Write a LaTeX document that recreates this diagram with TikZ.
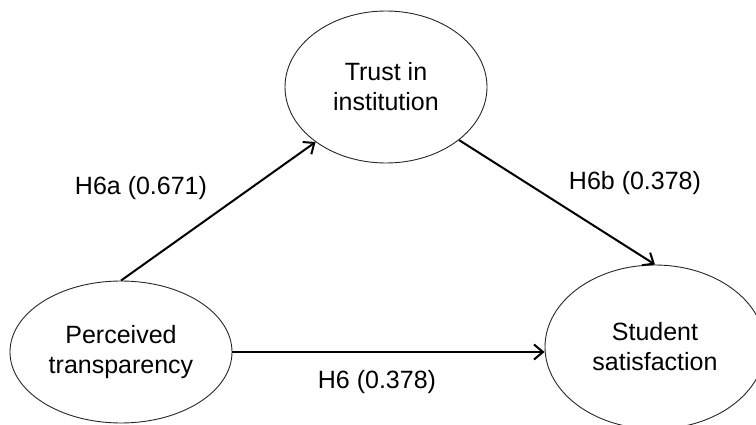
\documentclass[tikz,border=0pt]{standalone}
\usepackage{fontspec}
\setmainfont{Liberation Sans}
\usetikzlibrary{arrows.meta,shapes.geometric}
\begin{document}
\begin{tikzpicture}[x=1pt,y=-1pt,
  latent/.style={draw=black!85, line width=0.9pt, ellipse, inner sep=0pt, align=center,
    font=\fontsize{25}{30}\selectfont},
  hyp/.style={line width=2pt, -{Straight Barb[length=9pt,width=15pt,line width=2pt]}},
  lbl/.style={font=\fontsize{25}{30}\selectfont, inner sep=0pt}]
\useasboundingbox (0,0) rectangle (756,425);
\node[latent, minimum width=202pt, minimum height=152pt] (trust) at (386,87) {Trust in\\institution};
\node[latent, minimum width=222pt, minimum height=142pt] (pt) at (121,352) {Perceived\\transparency};
\node[latent, minimum width=220pt, minimum height=164pt] (ss) at (655,347) {Student\\satisfaction};
\draw[hyp] (pt.north) -- (trust.218);
\draw[hyp] (trust.-36) -- (ss.north);
\draw[hyp] (pt.east) -- (pt.east -| ss.west);
\node[lbl] (l6a) at (141,188) {H6a (0.671)};
\node[lbl] (l6b) at (635,183) {H6b (0.378)};
\node[lbl] (l6) at (377,382) {H6 (0.378)};
\end{tikzpicture}
\end{document}
